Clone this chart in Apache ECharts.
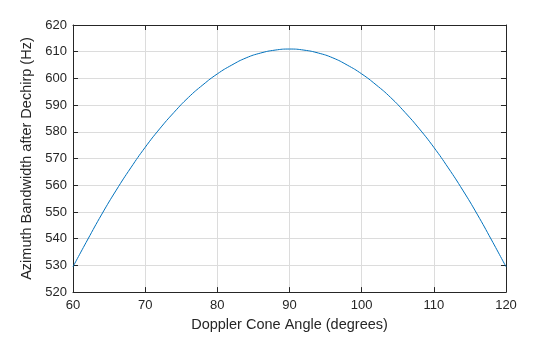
<!DOCTYPE html>
<html><head><meta charset="utf-8">
<script src="https://cdn.jsdelivr.net/npm/echarts@6/dist/echarts.min.js"></script>
<style>html,body{margin:0;padding:0;background:#fff}#c{width:560px;height:337px}</style>
</head><body><div id="c"></div>
<script>
const coneAngle = [60,62,64,66,68,70,72,74,76,78,80,82,84,86,88,90,92,94,96,98,100,102,104,106,108,110,112,114,116,118,120];
const bandwidth = [529.5,539.5,549.2,558.2,566.5,574.2,581.1,587.3,592.9,597.6,601.7,605.0,607.7,609.5,610.6,611.0,610.6,609.5,607.7,605.0,601.7,597.6,592.9,587.3,581.1,574.2,566.5,558.2,549.2,539.5,529.5];
const xTicks = [60,70,80,90,100,110,120];
const yTicks = [520,530,540,550,560,570,580,590,600,610,620];

const font = 'Liberation Sans, Arial, Helvetica, sans-serif';
const axisLine = {show:true, lineStyle:{color:'#262626', width:1}};
const chart = echarts.init(document.getElementById('c'), null, {renderer:'canvas'});
chart.setOption({
  animation:false,
  grid:{left:73, right:54, top:25, bottom:39},
  xAxis:[{
    type:'value', min:60, max:120, interval:10, position:'bottom',
    name:'Doppler Cone Angle (degrees)', nameLocation:'middle', nameGap:23,
    nameTextStyle:{fontFamily:font, fontSize:14.5, color:'#262626'},
    axisLine:axisLine, axisTick:{show:true, inside:true, length:5, lineStyle:{color:'#262626'}},
    axisLabel:{fontFamily:font, fontSize:13, color:'#262626', margin:7},
    splitLine:{show:true, lineStyle:{color:'#dcdcdc', width:1}}
  },{
    type:'value', min:60, max:120, interval:10, position:'top',
    axisLine:axisLine, axisTick:{show:true, inside:true, length:5, lineStyle:{color:'#262626'}},
    axisLabel:{show:false}, splitLine:{show:false}
  }],
  yAxis:[{
    type:'value', min:520, max:620, interval:10, position:'left',
    name:'Azimuth Bandwidth after Dechirp (Hz)', nameLocation:'middle', nameGap:25,
    nameTextStyle:{fontFamily:font, fontSize:14.5, color:'#262626'},
    axisLine:axisLine, axisTick:{show:true, inside:true, length:5, lineStyle:{color:'#262626'}},
    axisLabel:{fontFamily:font, fontSize:13, color:'#262626', margin:6},
    splitLine:{show:true, lineStyle:{color:'#dcdcdc', width:1}}
  },{
    type:'value', min:520, max:620, interval:10, position:'right',
    axisLine:axisLine, axisTick:{show:true, inside:true, length:5, lineStyle:{color:'#262626'}},
    axisLabel:{show:false}, splitLine:{show:false}
  }],
  series:[{
    type:'line', xAxisIndex:0, yAxisIndex:0,
    data: coneAngle.map((a,i)=>[a, bandwidth[i]]),
    smooth:true, showSymbol:false, symbol:'none',
    lineStyle:{color:'#0072BD', width:1}
  }]
});
</script></body></html>
